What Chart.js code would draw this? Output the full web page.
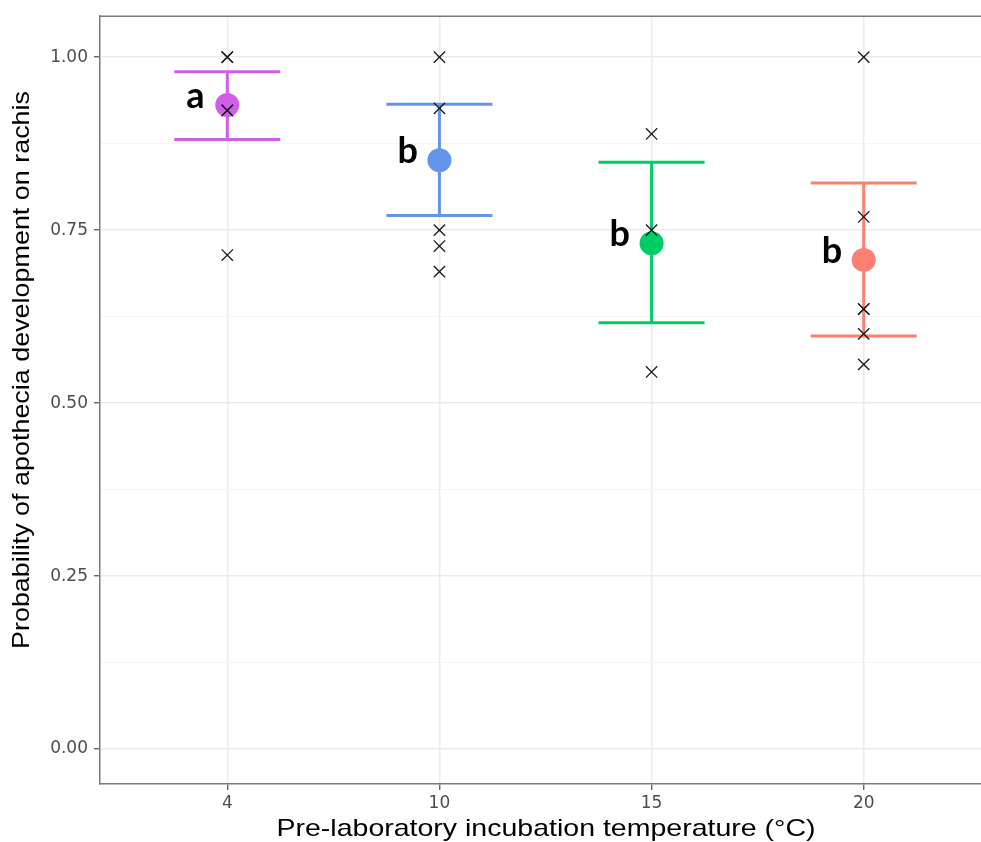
<!DOCTYPE html>
<html>
<head>
<meta charset="utf-8">
<script src="https://cdn.jsdelivr.net/npm/chart.js@4/dist/chart.umd.min.js"></script>
<style>
  html, body { margin: 0; padding: 0; background: #ffffff; overflow: hidden; }
  #wrap { width: 991px; height: 842px; position: relative; }
  #chart { display: block; }
</style>
</head>
<body>
<div id="wrap"><canvas id="chart" width="991" height="842"></canvas></div>
<script>
// Incubation temperatures (categories) and model estimates
const temperatures = ['4', '10', '15', '20'];
const meanProb  = [0.931, 0.851, 0.731, 0.707];
const lowerCI   = [0.881, 0.771, 0.616, 0.597];
const upperCI   = [0.979, 0.932, 0.848, 0.818];
const groupLetters = ['a', 'b', 'b', 'b'];

// Observed proportions per temperature
const obs4  = [1.0, 1.0, 0.923, 0.923, 0.714];
const obs10 = [1.0, 0.926, 0.75, 0.727, 0.69];
const obs15 = [0.889, 0.75, 0.545];
const obs20 = [1.0, 0.769, 0.636, 0.636, 0.6, 0.556];
const observations = [obs4, obs10, obs15, obs20];

// Axis ticks
const yMajorTicks = [0, 0.25, 0.5, 0.75, 1.0];
const yMinorTicks = [0.125, 0.375, 0.625, 0.875];

const xTitle = 'Pre-laboratory incubation temperature (\u00B0C)';
const yTitle = 'Probability of apothecia development on rachis';

// Styling
const groupColors = ['#cf5ee8', '#6495ed', '#00cc66', '#fa8072'];
const capHalf = 0.25;

const errorBarSets = temperatures.map((t, i) => {
  const x = i + 1;
  return {
    type: 'scatter',
    showLine: true,
    spanGaps: false,
    order: 3,
    borderColor: groupColors[i],
    borderWidth: 3,
    pointRadius: 0,
    borderCapStyle: 'butt',
    data: [
      { x: x - capHalf, y: upperCI[i] }, { x: x + capHalf, y: upperCI[i] }, { x: x, y: null },
      { x: x, y: upperCI[i] }, { x: x, y: lowerCI[i] }, { x: x, y: null },
      { x: x - capHalf, y: lowerCI[i] }, { x: x + capHalf, y: lowerCI[i] }
    ]
  };
});

const meanSet = {
  type: 'scatter',
  order: 2,
  data: meanProb.map((v, i) => ({ x: i + 1, y: v })),
  pointRadius: 12,
  pointBackgroundColor: groupColors,
  pointBorderWidth: 0,
  pointBorderColor: groupColors
};

const obsSet = {
  type: 'scatter',
  order: 1,
  data: observations.flatMap((arr, i) => arr.map(v => ({ x: i + 1, y: v }))),
  pointStyle: 'crossRot',
  pointRadius: 8,
  pointBorderWidth: 1.3,
  pointBorderColor: '#1a1a1a',
  pointBackgroundColor: '#1a1a1a'
};

function drawStretchedText(ctx, text, cx, cy, font, targetLen, rotate) {
  ctx.save();
  ctx.font = font;
  const w = ctx.measureText(text).width;
  ctx.translate(cx, cy);
  if (rotate) ctx.rotate(-Math.PI / 2);
  ctx.scale(targetLen / w, 1);
  ctx.textAlign = 'center';
  ctx.textBaseline = 'middle';
  ctx.fillStyle = '#000000';
  ctx.fillText(text, 0, 0);
  ctx.restore();
}

const annotations = {
  id: 'annotations',
  afterDatasetsDraw(chart) {
    const { ctx, chartArea, scales } = chart;
    // panel top edge
    ctx.save();
    ctx.strokeStyle = '#7a7a7a';
    ctx.lineWidth = 1.5;
    ctx.beginPath();
    ctx.moveTo(chartArea.left, chartArea.top);
    ctx.lineTo(chartArea.right, chartArea.top);
    ctx.stroke();
    // significance letters
    ctx.font = 'bold 36px Lato';
    ctx.fillStyle = '#000000';
    ctx.textAlign = 'center';
    ctx.textBaseline = 'alphabetic';
    groupLetters.forEach((g, i) => {
      const px = scales.x.getPixelForValue(i + 1 - 0.15);
      const py = scales.y.getPixelForValue(meanProb[i]) + 3;
      ctx.fillText(g, px, py);
    });
    ctx.restore();
  },
  afterDraw(chart) {
    const { ctx } = chart;
    drawStretchedText(ctx, xTitle, 546, 829, '24px "Liberation Sans"', 539, false);
    drawStretchedText(ctx, yTitle, 22, 370, '24px "Liberation Sans"', 558, true);
  }
};

const isMajor = v => yMajorTicks.some(t => Math.abs(t - v) < 1e-9);

new Chart(document.getElementById('chart'), {
  type: 'scatter',
  data: { datasets: [obsSet, meanSet, ...errorBarSets] },
  options: {
    responsive: false,
    maintainAspectRatio: false,
    animation: false,
    devicePixelRatio: 1,
    layout: { autoPadding: false, padding: { left: 0, right: 0, top: 15, bottom: 0 } },
    plugins: { legend: { display: false }, tooltip: { enabled: false } },
    scales: {
      x: {
        type: 'linear',
        min: 0.4,
        max: 4.6,
        afterBuildTicks(scale) { scale.ticks = temperatures.map((t, i) => ({ value: i + 1 })); },
        afterFit(scale) { scale.height = 58; },
        ticks: {
          callback: v => temperatures[v - 1],
          font: { family: 'DejaVu Sans', size: 17 },
          color: '#4d4d4d',
          padding: 3,
          maxRotation: 0
        },
        grid: { color: '#ebebeb', lineWidth: 1.5, tickLength: 6, tickColor: '#4d4d4d', tickWidth: 1.2 },
        border: { display: true, color: '#7a7a7a', width: 1.5 }
      },
      y: {
        type: 'linear',
        min: -0.0505,
        max: 1.0592,
        afterBuildTicks(scale) {
          scale.ticks = [...yMajorTicks, ...yMinorTicks].sort((a, b) => a - b).map(v => ({ value: v }));
        },
        afterFit(scale) { scale.width = 100; },
        ticks: {
          callback: v => isMajor(v) ? v.toFixed(2) : '',
          font: { family: 'DejaVu Sans', size: 17 },
          color: '#4d4d4d',
          padding: 6
        },
        grid: {
          color: c => isMajor(c.tick.value) ? '#ebebeb' : '#f5f5f5',
          lineWidth: c => isMajor(c.tick.value) ? 1.5 : 1,
          tickLength: 6,
          tickColor: c => isMajor(c.tick.value) ? '#4d4d4d' : 'rgba(0,0,0,0)',
          tickWidth: 1.2
        },
        border: { display: true, color: '#7a7a7a', width: 1.5 }
      }
    }
  },
  plugins: [annotations]
});
</script>
</body>
</html>
